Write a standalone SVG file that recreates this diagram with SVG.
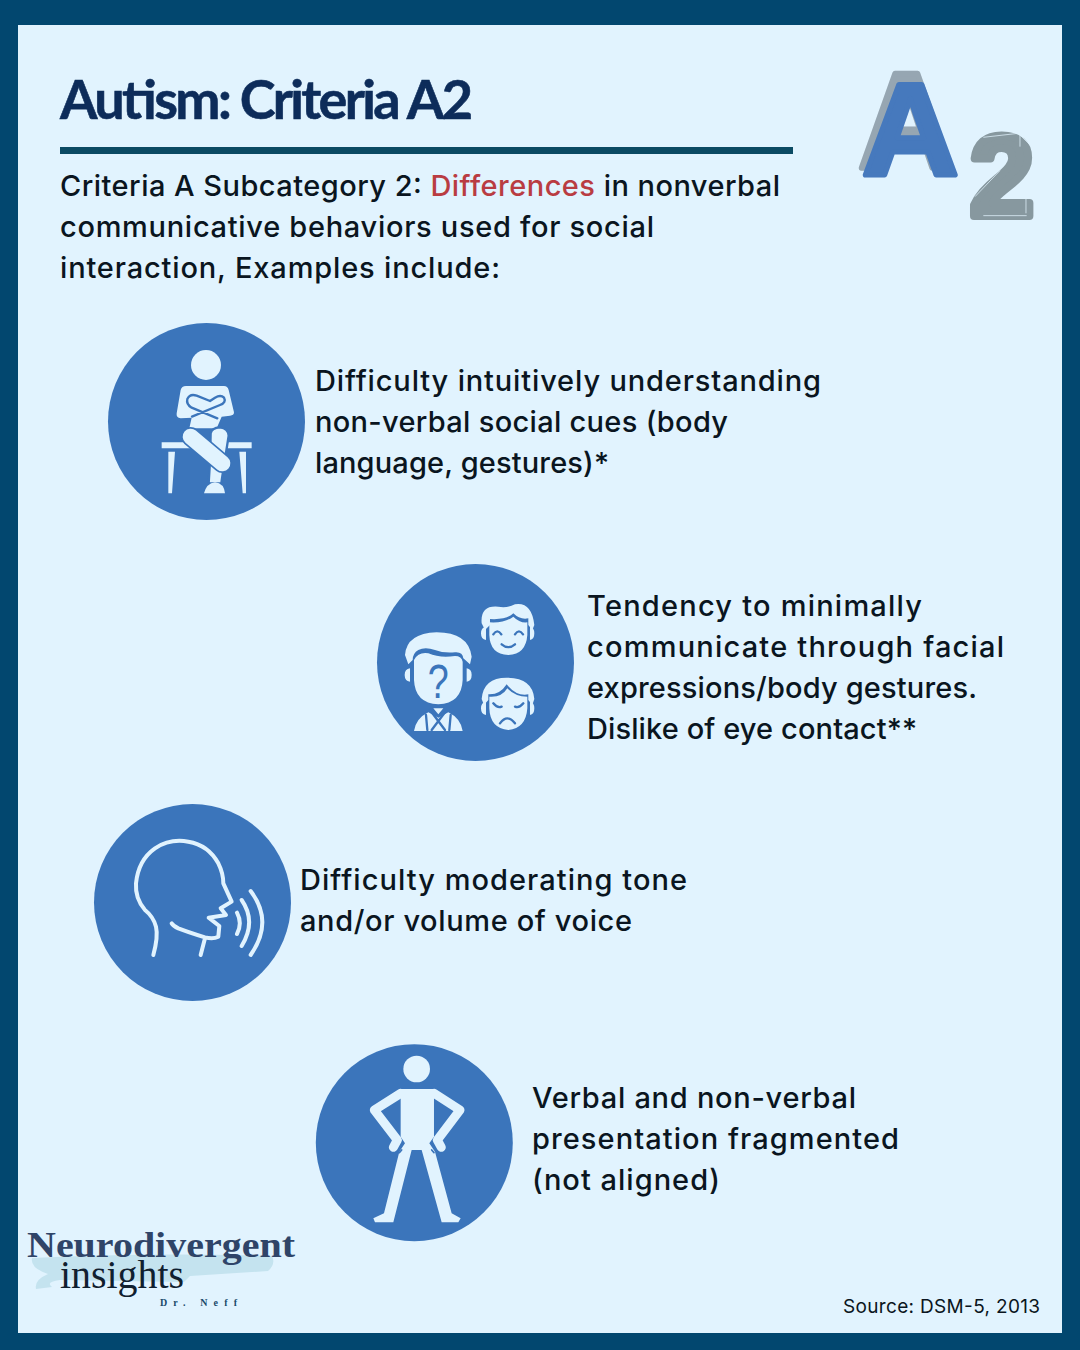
<svg xmlns="http://www.w3.org/2000/svg" width="1080" height="1350" viewBox="0 0 1080 1350">
<style>
.b{font-family:"Inter","Noto Sans","Liberation Sans",sans-serif;font-weight:500;font-size:29px;fill:#0a1520}
.l{fill:#e1f3fe}
.s{fill:none;stroke:#e1f3fe;stroke-linecap:round;stroke-linejoin:round}
.u{fill:none;stroke:#3b75bb;stroke-linecap:round;stroke-linejoin:round}
.c{fill:#3b75bb}
.g{font-family:"Liberation Sans",sans-serif;font-weight:700;stroke-linejoin:round}
</style>
<rect width="1080" height="1350" fill="#02476f"/>
<rect x="18" y="25" width="1044" height="1308" fill="#e1f3fe"/>
<g id="title">
<text x="60" y="119" font-family="'Lato','Liberation Sans',sans-serif" font-weight="700" font-size="54" fill="#0d2c5a" stroke="#0d2c5a" stroke-width=".6" textLength="413" lengthAdjust="spacing">Autism: Criteria A2</text>
<rect x="60" y="147" width="733" height="7" fill="#0b4a63"/>
</g>
<g id="badge">
<text class="g" transform="translate(858 168) scale(1.03 1.06)" font-size="130" fill="#96a6b2" stroke="#96a6b2" stroke-width="5">A</text>
<text class="g" transform="translate(862 175) scale(1.03 1.02)" font-size="130" fill="#4679bd" stroke="#4679bd" stroke-width="5">A</text>
<text class="g" x="970" y="216" font-size="115" fill="#87989f" stroke="#87989f" stroke-width="8">2</text>
<g transform="translate(840 50) scale(.3333)" fill="none" stroke="#e1f3fe" stroke-width="3" opacity=".75">
<path d="M430 262L535 250L575 290M540 252V290M405 440L480 362M430 497L560 497M558 445V490"/>
</g>
</g>
<g id="intro">
<text class="b" x="60" y="196" textLength="720"><tspan>Criteria A Subcategory 2: </tspan><tspan fill="#b93c42">Differences</tspan><tspan> in nonverbal</tspan></text>
<text class="b" x="60" y="237" textLength="594">communicative behaviors used for social</text>
<text class="b" x="60" y="278" textLength="440">interaction, Examples include:</text>
</g>
<g id="item1">
<circle class="c" cx="206.5" cy="421.5" r="98.5"/>
<circle class="l" cx="206" cy="365" r="15"/>
<g transform="translate(160 375) scale(.3333)">
<path class="l" d="M78 33H192Q203 33 206 45L222 112Q222 122 210 122L185 125L170 160H88L95 128L62 130Q48 128 50 115L62 45Q65 33 78 33Z"/>
<path class="u" stroke-width="7" d="M96 125L180 90Q200 82 192 68Q182 58 165 68L150 78L110 62Q90 55 82 72Q78 88 95 98L172 130"/>
<path class="l" d="M5 202H275V220H5ZM25 230H45L36 355H25ZM238 230H258V355H248Z"/>
<path class="l" stroke="#3b75bb" stroke-width="7" d="M152 175Q155 158 180 157Q205 160 206 182L186 310L184 325H146L150 260Z"/>
<path class="l" d="M132 355Q140 325 165 322Q192 325 195 355Z"/>
<path stroke="#3b75bb" stroke-width="58" stroke-linecap="round" d="M92 185L187 265"/>
<path stroke="#e1f3fe" stroke-width="48" stroke-linecap="round" d="M92 185L187 265"/>
</g>
<text class="b" x="315" y="391" textLength="506">Difficulty intuitively understanding</text>
<text class="b" x="315" y="432" textLength="413">non-verbal social cues (body</text>
<text class="b" x="315" y="473" textLength="294">language, gestures)*</text>
</g>
<g id="item2">
<circle class="c" cx="475.5" cy="662.5" r="98.5"/>
<g transform="translate(400 595) scale(.3333)">
<path class="l" d="M15 180Q20 115 110 112Q205 112 215 185L210 208L190 190Q188 170 165 172Q130 175 105 165Q75 155 55 165Q38 175 38 195L25 208Z"/>
<path class="l" d="M42 195Q55 170 85 175Q120 190 165 183Q185 183 188 200V255Q185 325 115 328Q45 325 42 255Z"/>
<path class="l" d="M14 240Q14 222 30 220V260Q14 258 14 240ZM215 240Q215 222 200 220V260Q215 258 215 240Z"/>
<path class="l" d="M42 408Q48 370 85 352L115 368L145 352Q182 370 188 408ZM100 340H130L115 358Z"/>
<path class="u" stroke-width="7" d="M90 345L135 405M140 345L95 405M78 360L82 405M152 360L148 405"/>
<text transform="translate(115 310) scale(.78 1)" font-family="'Liberation Sans',sans-serif" font-size="145" text-anchor="middle" fill="#3b75bb">?</text>
<path class="l" d="M245 85Q240 30 295 35Q320 40 345 28Q395 20 403 90L397 105L385 90V70Q360 75 340 55Q320 75 270 72V90L255 105Z"/>
<path class="l" d="M268 82Q315 85 340 65Q360 85 382 82V120Q378 178 325 180Q270 178 268 120Z"/>
<path class="l" d="M243 115Q243 97 258 95V135Q243 133 243 115ZM403 115Q403 97 390 95V135Q403 133 403 115Z"/>
<path class="u" stroke-width="7" d="M280 118Q292 100 304 118M345 118Q357 100 369 118M305 148Q325 165 345 148"/>
<path class="l" d="M245 312Q250 248 320 248Q398 248 403 312L397 330L385 315V298Q350 305 320 268Q300 300 265 298V315L252 330Z"/>
<path class="l" d="M268 305Q305 308 322 280Q345 305 382 305V340Q378 400 325 405Q270 400 268 340Z"/>
<path class="l" d="M243 340Q243 322 258 320V360Q243 358 243 340ZM403 340Q403 322 390 320V360Q403 358 403 340Z"/>
<path class="u" stroke-width="7" d="M280 325Q292 340 305 335M345 335Q358 340 370 325M300 385Q322 355 345 385"/>
</g>
<text class="b" x="587" y="616" textLength="335">Tendency to minimally</text>
<text class="b" x="587" y="657" textLength="417">communicate through facial</text>
<text class="b" x="587" y="698" textLength="390">expressions/body gestures.</text>
<text class="b" x="587" y="739" textLength="330">Dislike of eye contact**</text>
</g>
<g id="item3">
<circle class="c" cx="192.5" cy="902.5" r="98.5"/>
<g transform="translate(90 800) scale(.3333)">
<path class="s" stroke-width="12" d="M190 465Q205 410 198 380Q190 350 165 330Q135 295 138 250Q145 180 195 145Q240 115 295 125Q355 135 385 190Q400 220 400 250L425 305L392 325L408 345L356 353L388 378L385 410Q370 418 345 412Q290 395 265 385Q250 378 245 370M345 415L332 465"/>
<path class="s" stroke-width="12" d="M441 338Q458 370 441 402M455 300Q500 365 455 438M482 273Q552 365 482 465"/>
</g>
<text class="b" x="300" y="890" textLength="387">Difficulty moderating tone</text>
<text class="b" x="300" y="931" textLength="332">and/or volume of voice</text>
</g>
<g id="item4">
<circle class="c" cx="414.3" cy="1142.7" r="98.5"/>
<g transform="translate(310 1040) scale(.3333)">
<circle class="l" cx="320" cy="87" r="40"/>
<path class="l" d="M272 147H372V290L358 310L375 335L425 520L452 535L445 547H395L335 330H305L250 547H195L190 535L222 520L268 335L285 310L272 290Z"/>
<path class="s" stroke-width="27" d="M272 160L193 210L262 300L250 322M372 160L450 210L382 300L394 322"/>
<path class="u" stroke-width="5" d="M275 330L268 338M365 330L372 338"/>
</g>
<text class="b" x="532" y="1108" textLength="324">Verbal and non-verbal</text>
<text class="b" x="532" y="1149" textLength="367">presentation fragmented</text>
<text class="b" x="532" y="1190" textLength="188">(not aligned)</text>
</g>
<g id="logo">
<path fill="#c4e3ef" d="M32 1258Q150 1252 272 1256Q276 1264 268 1271L190 1276L184 1282L60 1280Q45 1282 52 1287L36 1289Q34 1280 48 1274Q30 1268 32 1258Z"/>
<text x="27" y="1257" font-family="'Liberation Serif',serif" font-weight="700" font-size="35" fill="#2f4468" textLength="268" lengthAdjust="spacingAndGlyphs">Neurodivergent</text>
<text x="60" y="1288" font-family="'Liberation Serif',serif" font-size="40" fill="#10202f" textLength="124" lengthAdjust="spacingAndGlyphs">insights</text>
<text x="160" y="1306" font-family="'Liberation Serif',serif" font-weight="700" font-size="10" fill="#1a4a6b" textLength="77">Dr. Neff</text>
</g>
<text id="source" x="843" y="1313" font-family="'Inter','Liberation Sans',sans-serif" font-size="19" fill="#0a1520" textLength="197">Source: DSM-5, 2013</text>
</svg>
